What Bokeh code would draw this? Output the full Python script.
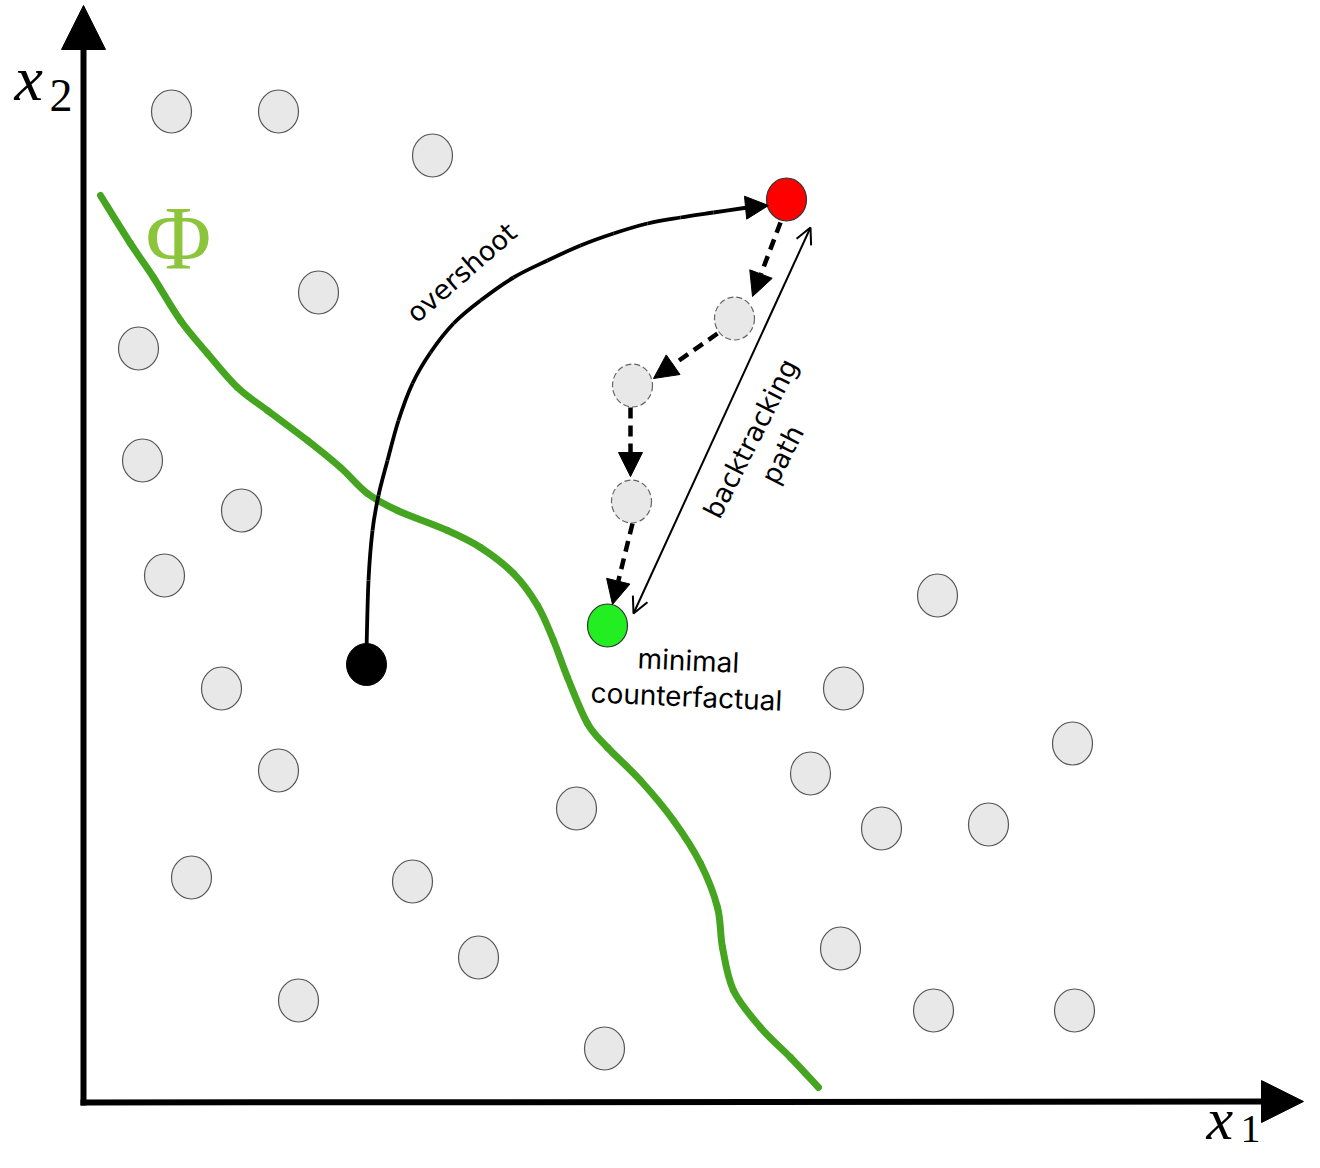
from bokeh.plotting import figure
from bokeh.models import Range1d, Arrow, NormalHead, OpenHead
from bokeh.embed import file_html
from bokeh.resources import INLINE
from bokeh.core.properties import value

# ---- data (diagram coordinates, pixel-like units, y pointing down) ----
gray_x = [171, 278, 432, 318, 138, 142, 241, 164, 221, 278, 191, 412, 478, 298, 604,
          576, 937, 843, 1072, 810, 881, 988, 840, 933, 1074]
gray_y = [111, 111, 155, 292, 348, 460, 510, 575, 688, 770, 877, 881, 957, 1000, 1048,
          808, 595, 688, 743, 773, 828, 824, 948, 1010, 1010]

step_x = [734, 632, 631]
step_y = [318, 385, 501]

red_x, red_y = [786], [199]
green_x, green_y = [607], [625]
start_x, start_y = [366], [664]

phi_x = [100, 130, 153, 180, 207, 237, 267, 307, 340, 367, 397, 447, 480, 513, 537, 553,
         567, 587, 607, 640, 673, 700, 717, 722, 733, 760, 790, 818]
phi_y = [195, 243, 277, 320, 353, 387, 410, 440, 467, 493, 510, 530, 547, 573, 605, 640,
         677, 723, 747, 780, 820, 863, 907, 947, 990, 1027, 1057, 1087]

over_x = [366, 368, 372, 378, 387, 398, 412, 430, 453, 480, 513, 547, 580, 613, 647, 680, 713, 747]
over_y = [650, 580, 530, 495, 460, 420, 383, 352, 323, 300, 277, 260, 245, 233, 223, 217, 212, 207]
over_tip_x, over_tip_y = 768, 205

dash_x0 = [780, 717, 630, 632]
dash_y0 = [222, 333, 407, 523]
dash_x1 = [752, 653, 630, 612]
dash_y1 = [296, 378, 476, 604]

back_x0, back_y0 = 633, 613
back_x1, back_y1 = 810, 227

origin_x, origin_y = 83, 1102
ytip_x, ytip_y = 83, 5
xtip_x, xtip_y = 1303, 1101


def smooth_segments(xs, ys):
    """Bezier handles (Catmull-Rom style) so the library draws a smooth path through the points."""
    n = len(xs)
    x0, y0, x1, y1, cx0, cy0, cx1, cy1 = ([] for _ in range(8))
    for i in range(n - 1):
        pxm, pym = (xs[i - 1], ys[i - 1]) if i > 0 else (xs[i], ys[i])
        pxp, pyp = (xs[i + 2], ys[i + 2]) if i + 2 < n else (xs[i + 1], ys[i + 1])
        x0.append(xs[i]); y0.append(ys[i])
        x1.append(xs[i + 1]); y1.append(ys[i + 1])
        cx0.append(xs[i] + (xs[i + 1] - pxm) / 6); cy0.append(ys[i] + (ys[i + 1] - pym) / 6)
        cx1.append(xs[i + 1] - (pxp - xs[i]) / 6); cy1.append(ys[i + 1] - (pyp - ys[i]) / 6)
    return dict(x0=x0, y0=y0, x1=x1, y1=y1, cx0=cx0, cy0=cy0, cx1=cx1, cy1=cy1)


p = figure(width=1304, height=1152, output_backend="svg", toolbar_location=None,
           x_range=Range1d(0, 1304), y_range=Range1d(1152, 0),
           min_border=0, min_border_left=0, min_border_right=0,
           min_border_top=0, min_border_bottom=0)
p.axis.visible = False
p.grid.visible = False
p.outline_line_color = None
p.background_fill_color = "white"
p.border_fill_color = "white"

# green decision boundary
p.bezier(**smooth_segments(phi_x, phi_y), line_color="#45a521", line_width=7, line_cap="round")

# gray data points
p.ellipse(gray_x, gray_y, width=40, height=43, fill_color="#e8e8e8",
          line_color="#555555", line_width=1.2)

# intermediate (dashed-outline) points
p.ellipse(step_x, step_y, width=40, height=43, fill_color="#e8e8e8",
          line_color="#666666", line_width=1.2, line_dash="6 3")

# overshoot curve
p.bezier(**smooth_segments(over_x, over_y), line_color="black", line_width=3.8)
p.add_layout(Arrow(end=NormalHead(size=23, fill_color="black", line_color="black"),
                   x_start=over_x[-1], y_start=over_y[-1], x_end=over_tip_x, y_end=over_tip_y,
                   line_width=3.8, line_color="black"))

# dashed step arrows
for xs, ys, xe, ye in zip(dash_x0, dash_y0, dash_x1, dash_y1):
    p.add_layout(Arrow(end=NormalHead(size=24, fill_color="black", line_color="black"),
                       x_start=xs, y_start=ys, x_end=xe, y_end=ye,
                       line_width=4.5, line_color="black", line_dash="11 7"))

# backtracking double arrow
p.add_layout(Arrow(start=OpenHead(size=16, line_width=2, line_color="black"),
                   end=OpenHead(size=16, line_width=2, line_color="black"),
                   x_start=back_x0, y_start=back_y0, x_end=back_x1, y_end=back_y1,
                   line_width=2, line_color="black"))

# special points
p.ellipse(red_x, red_y, width=40, height=43, fill_color="#ff0000", line_color="#333333", line_width=1.2)
p.ellipse(green_x, green_y, width=40, height=43, fill_color="#22ee22", line_color="#333333", line_width=1.2)
p.ellipse(start_x, start_y, width=40, height=42, fill_color="black", line_color="black")

# axes
p.add_layout(Arrow(end=NormalHead(size=44, fill_color="black", line_color="black"),
                   x_start=origin_x, y_start=origin_y + 3, x_end=ytip_x, y_end=ytip_y,
                   line_width=6, line_color="black"))
p.add_layout(Arrow(end=NormalHead(size=42, fill_color="black", line_color="black"),
                   x_start=origin_x - 3, y_start=origin_y, x_end=xtip_x, y_end=xtip_y,
                   line_width=6, line_color="black"))

# texts
serif = value("Liberation Serif")
p.text([14], [78], text=["x"], text_font=serif, text_font_style="italic",
       text_font_size="64px", text_color="black", text_baseline="middle")
p.text([49], [95], text=["2"], text_font=serif,
       text_font_size="46px", text_color="black", text_baseline="middle")
p.text([1206], [1118], text=["x"], text_font=serif, text_font_style="italic",
       text_font_size="60px", text_color="black", text_baseline="middle")
p.text([1240], [1128], text=["1"], text_font=serif,
       text_font_size="40px", text_color="black", text_baseline="middle")
p.text([178], [238], text=["Φ"], text_font=serif, text_font_size="90px",
       text_color="#8cc43c", text_align="center", text_baseline="middle")

sans = value("DejaVu Sans")
p.text([461], [272], text=["overshoot"], text_font=sans, text_font_size="27px",
       angle=41, angle_units="deg", text_align="center", text_baseline="middle",
       text_color="black")
p.text([766], [446], text=["backtracking\npath"], text_font=sans, text_font_size="27px",
       angle=63, angle_units="deg", text_align="center", text_baseline="middle",
       text_color="black", text_line_height=1.15)
inter = value("Inter")
p.text([688], [660], text=["minimal"], text_font=inter, text_font_size="28px",
       angle=-2.5, angle_units="deg", text_align="center", text_baseline="middle",
       text_color="black")
p.text([686], [696], text=["counterfactual"], text_font=inter, text_font_size="28px",
       angle=-2.5, angle_units="deg", text_align="center", text_baseline="middle",
       text_color="black")

open("out.html", "w").write(file_html(p, INLINE))
